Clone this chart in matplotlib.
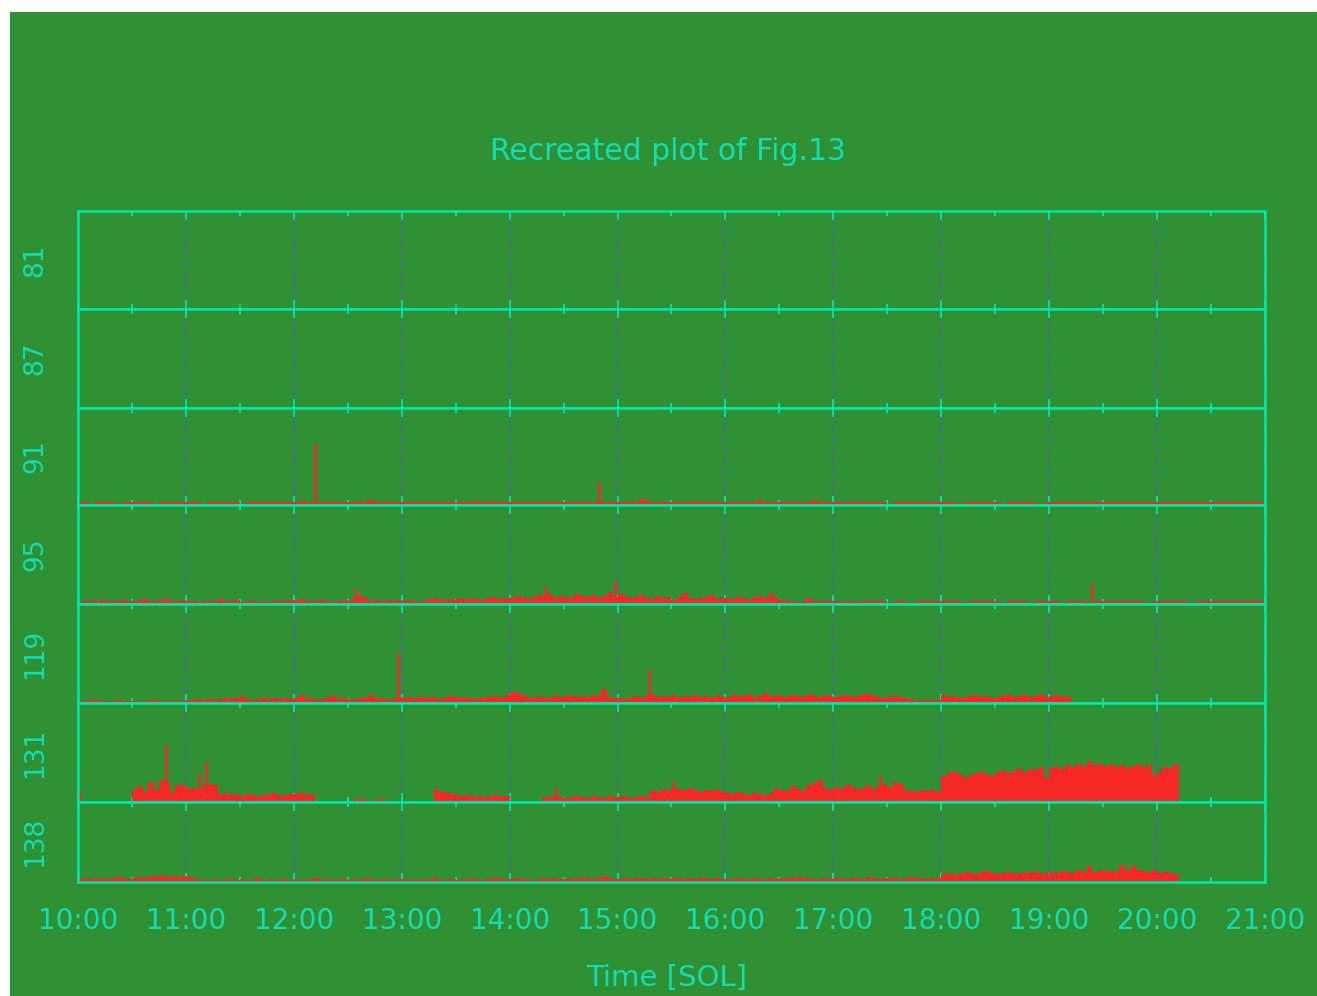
import numpy as np
import matplotlib
matplotlib.use('Agg')
import matplotlib.pyplot as plt
from matplotlib.patches import Rectangle

# ── colours ────────────────────────────────────────────────
BG = '#2e9234'
CYAN = '#00e6aa'
TXT = '#14dcb4'
GRID = '#5a5ab4'
RED = '#f82828'

W, H = 1317, 996

# ── data: 3-minute bins from 10:00, heights per panel ──────
T0 = 10.0
BIN = 0.05

panel_labels = ['81', '87', '91', '95', '119', '131', '138']
panel_heights = [98, 99, 97, 99, 99, 99, 80]
hours = list(range(10, 22))
hour_labels = [f'{h}:00' for h in hours]

counts_81 = []
counts_87 = []

counts_91 = [
    3, 3, 0, 3, 3, 3, 3, 0, 3, 3, 3, 3, 3, 3, 0, 3, 3, 3, 3, 3,
    3, 3, 3, 0, 3, 3, 3, 3, 3, 3, 0, 3, 3, 3, 3, 3, 3, 3, 3, 3,
    3, 4, 3, 3, 3, 3, 3, 3, 3, 3, 3, 3, 3, 4, 5, 3, 3, 3, 3, 3,
    3, 3, 3, 3, 3, 3, 3, 3, 3, 3, 3, 3, 3, 4, 3, 3, 4, 3, 3, 3,
    3, 3, 3, 3, 3, 3, 3, 3, 3, 3, 3, 3, 3, 3, 3, 3, 3, 3, 3, 3,
    3, 3, 3, 3, 6, 4, 3, 3, 3, 3, 3, 3, 3, 3, 4, 3, 3, 3, 3, 3,
    3, 3, 3, 3, 3, 3, 5, 3, 3, 3, 3, 3, 3, 3, 3, 3, 5, 3, 3, 3,
    3, 3, 3, 3, 3, 3, 3, 3, 3, 3, 0, 3, 3, 3, 3, 3, 3, 3, 3, 3,
    3, 3, 3, 0, 3, 3, 3, 3, 3, 3, 3, 0, 3, 3, 3, 3, 3, 3, 0, 3,
    3, 3, 3, 3, 3, 3, 3, 3, 3, 3, 3, 3, 3, 3, 3, 3, 3, 3, 3, 3,
    3, 3, 3, 3, 3, 3, 3, 3, 3, 3, 3, 3, 3, 3, 3, 3, 3, 3, 3, 3,
]
counts_95 = [
    2, 3, 3, 3, 4, 3, 3, 3, 4, 3, 3, 4, 5, 3, 3, 4, 5, 3, 3, 4,
    3, 3, 2, 3, 3, 3, 5, 3, 3, 4, 2, 3, 3, 2, 3, 2, 3, 3, 3, 4,
    4, 5, 3, 3, 3, 4, 3, 2, 3, 4, 3, 7, 8, 6, 3, 4, 3, 4, 3, 4,
    3, 4, 3, 2, 4, 5, 6, 4, 5, 4, 6, 5, 5, 6, 4, 5, 7, 6, 5, 6,
    6, 8, 7, 5, 7, 9, 8, 10, 6, 8, 7, 6, 10, 8, 7, 9, 6, 8, 12, 7,
    10, 8, 6, 7, 9, 6, 5, 8, 6, 7, 4, 7, 11, 6, 5, 6, 7, 9, 5, 6,
    6, 5, 7, 6, 4, 7, 8, 6, 11, 6, 4, 3, 3, 2, 3, 6, 3, 3, 3, 3,
    3, 2, 3, 3, 2, 3, 3, 3, 3, 3, 0, 3, 3, 3, 0, 3, 3, 3, 3, 3,
    3, 3, 3, 3, 0, 3, 3, 3, 3, 3, 3, 0, 3, 3, 3, 3, 0, 3, 3, 3,
    3, 3, 0, 3, 3, 3, 3, 0, 3, 3, 3, 3, 3, 3, 3, 3, 3, 3, 0, 3,
    3, 3, 3, 3, 3, 3, 0, 3, 3, 3, 3, 3, 3, 3, 3, 3, 3, 3, 3, 3,
]
counts_119 = [
    2, 2, 3, 3, 2, 2, 2, 3, 2, 2, 2, 2, 2, 3, 3, 2, 2, 2, 2, 2,
    3, 3, 4, 3, 4, 3, 4, 5, 4, 5, 7, 4, 3, 4, 5, 4, 5, 4, 5, 4,
    5, 8, 4, 5, 3, 4, 6, 7, 4, 5, 3, 4, 5, 6, 8, 4, 5, 3, 4, 6,
    5, 6, 4, 7, 5, 6, 5, 4, 6, 7, 5, 6, 5, 4, 5, 6, 6, 7, 5, 8,
    10, 11, 8, 6, 5, 7, 6, 5, 8, 6, 7, 8, 6, 7, 6, 8, 7, 14, 6, 5,
    5, 4, 6, 7, 5, 8, 9, 6, 7, 6, 8, 5, 7, 6, 8, 6, 7, 5, 8, 6,
    6, 8, 7, 7, 9, 6, 7, 10, 6, 8, 7, 6, 8, 7, 6, 9, 7, 6, 8, 7,
    6, 7, 8, 6, 7, 8, 10, 7, 6, 5, 6, 7, 6, 5, 4, 3, 3, 3, 3, 3,
    8, 6, 7, 5, 6, 7, 8, 6, 7, 5, 6, 7, 9, 6, 7, 8, 6, 7, 9, 6,
    7, 8, 6, 7,
]
counts_131 = [
    0, 0, 0, 0, 0, 0, 0, 0, 0, 0, 12, 16, 10, 20, 12, 22, 20, 10, 17, 17,
    13, 14, 12, 16, 18, 17, 8, 9, 7, 8, 6, 8, 7, 6, 7, 8, 9, 6, 7, 8,
    8, 9, 7, 8, 0, 0, 0, 0, 0, 0, 0, 3, 3, 3, 0, 3, 3, 0, 0, 0,
    0, 0, 0, 0, 0, 0, 13, 10, 9, 8, 7, 6, 7, 5, 6, 5, 6, 7, 6, 6,
    0, 0, 0, 0, 0, 0, 5, 5, 6, 5, 4, 5, 6, 5, 4, 6, 5, 4, 6, 5,
    5, 6, 4, 5, 6, 5, 12, 10, 13, 11, 14, 13, 12, 14, 12, 10, 12, 11, 13, 10,
    9, 8, 10, 8, 7, 9, 8, 7, 9, 14, 12, 11, 16, 13, 11, 17, 19, 22, 14, 12,
    15, 13, 17, 16, 12, 14, 17, 13, 16, 18, 15, 20, 18, 11, 12, 10, 12, 11, 12, 10,
    26, 29, 31, 28, 24, 27, 29, 30, 28, 26, 30, 32, 29, 31, 34, 30, 33, 32, 35, 24,
    34, 36, 33, 37, 35, 38, 36, 41, 37, 39, 36, 38, 35, 37, 34, 36, 38, 35, 37, 27,
    30, 35, 34, 38,
]
counts_138 = [
    4, 3, 4, 3, 4, 3, 4, 5, 4, 3, 4, 5, 4, 6, 5, 7, 5, 6, 5, 6,
    5, 4, 2, 3, 2, 3, 2, 3, 3, 2, 3, 2, 3, 4, 2, 3, 2, 3, 3, 2,
    3, 2, 3, 3, 4, 2, 3, 2, 3, 3, 2, 3, 2, 4, 3, 2, 3, 3, 2, 3,
    3, 2, 3, 2, 3, 3, 4, 2, 3, 3, 2, 3, 3, 4, 2, 3, 3, 4, 3, 3,
    3, 4, 3, 3, 2, 3, 4, 3, 4, 3, 3, 4, 3, 5, 3, 4, 3, 6, 4, 3,
    3, 4, 3, 4, 4, 3, 4, 3, 4, 3, 4, 4, 3, 4, 3, 4, 4, 3, 4, 3,
    3, 3, 4, 3, 3, 4, 3, 3, 4, 3, 4, 4, 4, 5, 4, 4, 3, 3, 4, 3,
    4, 4, 3, 4, 4, 3, 5, 4, 3, 4, 4, 4, 3, 4, 5, 4, 4, 3, 4, 4,
    8, 9, 7, 8, 10, 9, 8, 10, 11, 9, 8, 9, 10, 9, 8, 10, 9, 11, 9, 8,
    10, 9, 11, 10, 9, 12, 10, 16, 10, 12, 11, 11, 10, 17, 11, 16, 12, 11, 10, 12,
    9, 10, 9, 8,
]

# isolated narrow spikes (time in hours, height)
spike_t_91 = [12.20, 14.83]
spike_h_91 = [62, 23]
spike_t_95 = [12.58, 14.33, 14.98, 19.40]
spike_h_95 = [16, 18, 23, 21]
spike_t_119 = [12.97, 15.29]
spike_h_119 = [50, 34]
spike_t_131 = [10.02, 10.82, 11.12, 11.19, 14.43, 15.51, 17.43]
spike_h_131 = [11, 58, 29, 41, 15, 21, 27]

series = [counts_81, counts_87, counts_91, counts_95,
          counts_119, counts_131, counts_138]
spikes = [([], []), ([], []), (spike_t_91, spike_h_91),
          (spike_t_95, spike_h_95), (spike_t_119, spike_h_119),
          (spike_t_131, spike_h_131), ([], [])]

# ── figure ─────────────────────────────────────────────────
plt.rcParams['font.family'] = ['DejaVu Sans']
fig = plt.figure(figsize=(W / 100, H / 100), dpi=100, facecolor='white')
fig.add_artist(Rectangle((10 / W, 0), 1 - 10 / W, 1 - 12 / H,
                         transform=fig.transFigure, facecolor=BG,
                         edgecolor='none', zorder=-10))

gs = fig.add_gridspec(len(panel_labels), 1, height_ratios=panel_heights,
                      hspace=0, left=78 / W, right=1265 / W,
                      top=1 - 211 / H, bottom=1 - 882 / H)

for i, (lab, vals, (st, sh)) in enumerate(zip(panel_labels, series, spikes)):
    ax = fig.add_subplot(gs[i])
    ax.set_facecolor(BG)
    ax.set_xlim(10, 21)
    ax.set_ylim(0, panel_heights[i])
    ax.set_axisbelow(True)

    if len(vals):
        edges = T0 + BIN * np.arange(len(vals) + 1)
        ax.stairs(vals, edges, fill=True, color=RED, linewidth=0)
    if len(st):
        ax.vlines(st, 0, sh, color=RED, linewidth=1.8, zorder=1.5)

    ax.set_yticks([])
    ax.set_xticks(hours)
    ax.set_xticks(np.arange(10.5, 21, 1), minor=True)
    ax.tick_params(axis='x', which='major', direction='in', length=6.5,
                   width=1.3, color=CYAN, top=True, bottom=True)
    ax.tick_params(axis='x', which='minor', direction='in', length=3.5,
                   width=1.3, color=CYAN, top=True, bottom=True)
    ax.grid(axis='x', which='major', color=GRID, linewidth=1.2,
            linestyle=(0, (3, 3.3)))
    for sp in ax.spines.values():
        sp.set_color(CYAN)
        sp.set_linewidth(1.8)

    if i == len(panel_labels) - 1:
        ax.set_xticklabels(hour_labels)
        ax.tick_params(axis='x', which='major', labelsize=20,
                       labelcolor=TXT, pad=18)
    else:
        ax.set_xticklabels([])

    ax.text((35 - 78) / (1265 - 78), 0.5, lab, transform=ax.transAxes,
            rotation=90, ha='center', va='center', fontsize=19, color=TXT)

fig.text(668 / W, 1 - 151 / H, 'Recreated plot of Fig.13', ha='center',
         va='center', fontsize=21.5, color=TXT)
fig.text(667 / W, 1 - 978 / H, 'Time [SOL]', ha='center', va='center',
         fontsize=21, color=TXT)

fig.savefig('out.png', dpi=100, facecolor=fig.get_facecolor())
